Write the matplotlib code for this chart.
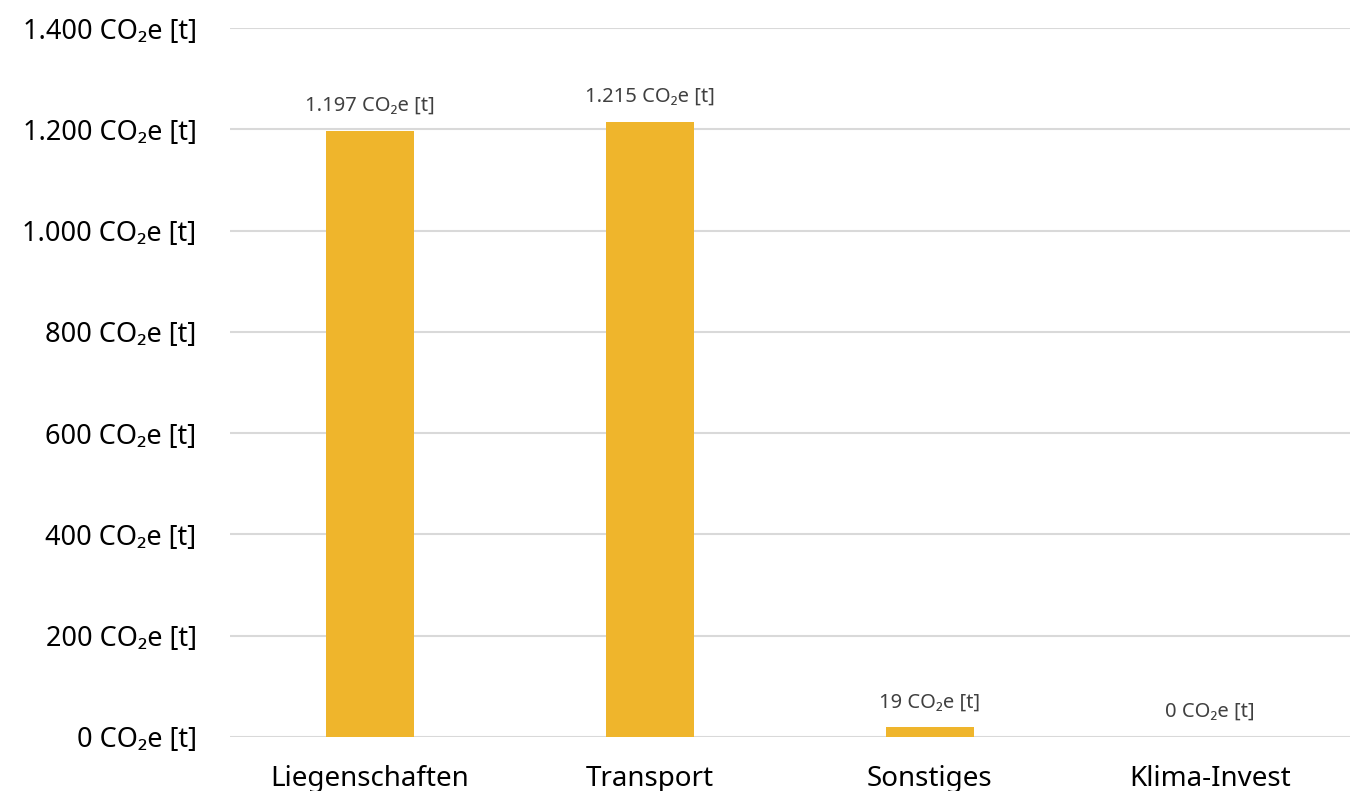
import matplotlib
matplotlib.use("Agg")
import matplotlib.pyplot as plt
from matplotlib.ticker import FuncFormatter

plt.rcParams['font.family'] = ['Noto Sans', 'DejaVu Sans']

categories = ["Liegenschaften", "Transport", "Sonstiges", "Klima-Invest"]
values = [1197, 1215, 19, 0]
yticks = [0, 200, 400, 600, 800, 1000, 1200, 1400]

BAR = "#EFB52C"
GRID = "#D9D9D9"


def fmt_de(v):
    return f"{int(v):,}".replace(",", ".") + " CO\u2082e [t]"


fig = plt.figure(figsize=(13.52, 7.91), dpi=100)
ax = fig.add_axes([0.170, 0.0683, 0.8285, 0.8963])

x = range(len(categories))
ax.bar(x, values, width=0.315, color=BAR, zorder=3)
for xi, v in zip(x, values):
    ax.annotate(fmt_de(v), (xi, v), xytext=(0, 25), textcoords="offset pixels",
                ha="center", va="center", fontsize=14.5, color="#404040")

ax.set_xlim(-0.5, len(categories) - 0.5)
ax.set_ylim(0, 1400)
ax.set_yticks(yticks)
ax.yaxis.set_major_formatter(FuncFormatter(lambda v, p: fmt_de(v)))
ax.set_xticks(list(x))
ax.set_xticklabels(categories)
ax.tick_params(axis="y", length=0, pad=24, labelsize=19.5, colors="black")
ax.tick_params(axis="x", length=0, pad=20, labelsize=20, colors="black")
ax.grid(axis="y", color=GRID, linewidth=1.5, zorder=0)
for s in ax.spines.values():
    s.set_visible(False)

fig.savefig("out.png", dpi=100)
